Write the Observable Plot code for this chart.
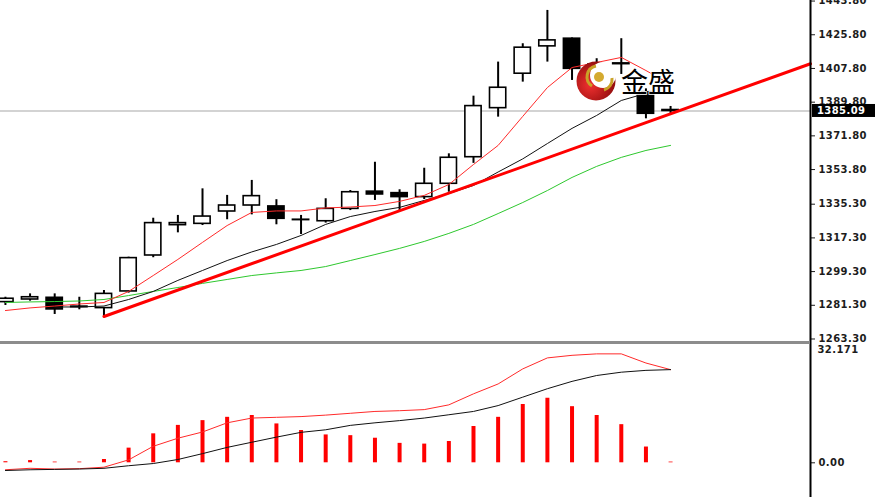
<!DOCTYPE html>
<html><head><meta charset="utf-8">
<script src="https://cdn.jsdelivr.net/npm/d3@7"></script>
<script src="https://cdn.jsdelivr.net/npm/@observablehq/plot@0.6"></script>
<style>
html,body{margin:0;padding:0;background:#fff;}
#wrap{position:relative;width:875px;height:497px;overflow:hidden;background:#fff;}
#wrap svg{position:absolute;left:0;display:block;}
</style></head><body><div id="wrap"></div>
<script>
// ---- data ----
const bars   = [0,1,2,3,4,5,6,7,8,9,10,11,12,13,14,15,16,17,18,19,20,21,22,23,24,25,26,27];
const opens  = [1283.0,1284.4,1285.3,1280.6,1279.8,1288.7,1307.9,1324.1,1324.8,1331.4,1334.6,1334.1,1327.0,1326.2,1332.8,1342.0,1341.2,1339.1,1346.2,1360.4,1386.6,1405.0,1419.6,1423.7,1408.5,1410.5,1395.1,1385.6];
const highs  = [1285.6,1287.4,1287.4,1285.6,1289.2,1307.0,1327.8,1329.3,1343.5,1340.0,1348.0,1337.7,1329.3,1338.2,1342.6,1357.7,1343.0,1354.5,1362.2,1393.0,1411.2,1421.0,1438.8,1424.1,1413.0,1423.7,1396.9,1387.5];
const lows   = [1281.2,1283.5,1276.4,1278.9,1274.9,1287.8,1306.7,1320.0,1323.9,1327.0,1329.6,1324.3,1319.1,1325.2,1331.9,1337.3,1331.9,1337.8,1341.7,1357.1,1381.8,1400.5,1411.2,1401.4,1398.8,1404.6,1380.9,1383.2];
const closes = [1284.8,1285.6,1279.1,1280.3,1287.4,1306.5,1325.2,1325.2,1328.7,1334.6,1339.6,1327.5,1326.8,1332.8,1341.7,1340.5,1339.1,1346.2,1360.1,1387.7,1397.5,1418.9,1422.8,1407.6,1410.0,1410.1,1383.6,1385.09];
const maRed   = [1278.5,1279.9,1280.9,1282.0,1282.8,1288.7,1297.2,1305.8,1314.9,1323.9,1330.9,1331.7,1331.7,1333.3,1333.8,1334.6,1336.8,1340.0,1345.8,1356.5,1366.7,1382.2,1397.6,1408.3,1411.0,1413.7,1406.7,1399.3];
const maBlack = [null,null,1280.4,1280.4,1280.9,1284.4,1288.7,1294.6,1299.9,1305.2,1309.8,1313.8,1318.6,1324.5,1328.7,1331.4,1333.6,1337.3,1341.0,1345.3,1352.5,1359.5,1367.7,1375.8,1382.7,1390.7,1394.5,null];
const maGreen = [1282.8,1283.1,1283.3,1283.6,1284.4,1286.5,1288.7,1290.8,1293.0,1295.1,1297.2,1298.6,1299.9,1302.0,1305.2,1308.4,1311.7,1315.4,1319.7,1324.5,1330.3,1336.2,1342.6,1349.6,1355.5,1360.3,1364.0,1366.7];
const trendBars   = [4, 32.68];
const trendPrices = [1275.3, 1410.3];
const priceTicks = [1443.80,1425.80,1407.80,1389.80,1371.80,1353.80,1335.30,1317.30,1299.30,1281.30,1263.30];
const lastPrice = 1385.09;
const macdHist  = [0.3,0.6,0.2,0.2,0.9,4.0,7.9,10.2,11.5,12.4,12.9,10.6,8.8,7.6,7.4,6.7,5.3,5.1,5.8,9.9,12.4,15.9,17.6,15.3,12.9,10.4,4.3,0.2];
const macdRed   = [-1.9,-1.5,-1.7,-1.6,-1.2,0.8,4.5,6.7,8.4,10.9,12.2,12.4,12.6,13.0,13.5,14.0,14.2,14.5,15.8,18.8,21.5,25.6,28.6,29.3,29.7,29.7,27.2,25.4];
const macdBlack = [-2.1,-1.9,-1.8,-1.7,-1.5,-0.8,-0.2,0.9,2.5,4.2,5.6,7.0,8.3,9.0,10.2,10.9,11.5,12.2,13.1,14.0,15.6,17.9,20.2,22.2,23.8,24.7,25.2,25.4];
const macdMaxLabel = 32.171;
const macdTicks = [0];
const brandText = "金盛";

// ---- layout ----
const xDomain = [-0.2, 32.68];
const priceDomain = [1261.96, 1444.1];
const macdDomain = [-9.46, 33.07];
const W = 875, RM = 65, TOPH = 341, BOTH = 156;

const candles = bars.map((i,k)=>({i, o:opens[k], h:highs[k], l:lows[k], c:closes[k]}));
const up = candles.filter(d=>d.c>=d.o), down = candles.filter(d=>d.c<d.o);
const series = arr => bars.map((i,k)=>({i, v: arr[k]==null ? NaN : arr[k]}));
const trend = trendBars.map((i,k)=>({i, v: trendPrices[k]}));
const bw = 0.33;
const axisStyle = {fontFamily:"DejaVu Sans", fontSize:"10px", fontWeight:"bold", color:"#1c1c1c", background:"transparent", overflow:"visible", letterSpacing:"0.4px"};

const topPlot = Plot.plot({
  width: W, height: TOPH, marginLeft: 0, marginRight: RM, marginTop: 0, marginBottom: 0,
  x: {domain: xDomain, axis: null},
  y: {domain: priceDomain, axis: "right", ticks: priceTicks, tickFormat: d=>d.toFixed(2), tickSize: 4, tickPadding: 4, label: null},
  style: axisStyle,
  marks: [
    Plot.ruleY([lastPrice], {stroke:"#c4c4c4", strokeWidth:1.5}),
    Plot.ruleX(candles, {x:"i", y1:"l", y2:"h", stroke:"black", strokeWidth:2}),
    Plot.rect(up, {x1:d=>d.i-bw, x2:d=>d.i+bw, y1:"o", y2:"c", fill:"white", stroke:"black", strokeWidth:1.6}),
    Plot.rect(down, {x1:d=>d.i-bw, x2:d=>d.i+bw, y1:"o", y2:"c", fill:"black", stroke:"black", strokeWidth:1.6}),
    Plot.line(series(maGreen), {x:"i", y:"v", stroke:"#2ec82e", strokeWidth:1}),
    Plot.line(series(maBlack), {x:"i", y:"v", stroke:"#111", strokeWidth:1}),
    Plot.line(series(maRed), {x:"i", y:"v", stroke:"#ff2a2a", strokeWidth:1}),
    Plot.line(trend, {x:"i", y:"v", stroke:"#ff0000", strokeWidth:3}),
    Plot.ruleX([xDomain[1]], {stroke:"black", strokeWidth:2})
  ]
});
topPlot.style.top = "0px";

const botPlot = Plot.plot({
  width: W, height: BOTH, marginLeft: 0, marginRight: RM, marginTop: 0, marginBottom: 0,
  x: {domain: xDomain, axis: null},
  y: {domain: macdDomain, axis: "right", ticks: macdTicks, tickFormat: d=>d.toFixed(2), tickSize: 4, tickPadding: 4, label: null},
  style: axisStyle,
  marks: [
    Plot.ruleX(series(macdHist), {x:"i", y1:0, y2:"v", stroke:"#ff0000", strokeWidth:4}),
    Plot.line(series(macdRed), {x:"i", y:"v", stroke:"#ff2a2a", strokeWidth:1}),
    Plot.line(series(macdBlack), {x:"i", y:"v", stroke:"#111", strokeWidth:1}),
    Plot.text([macdMaxLabel], {x: () => xDomain[1], y: d=>d, text: d=>d.toFixed(3), dx: 7, dy: 5, textAnchor:"start", fill:"#1c1c1c"}),
    Plot.ruleX([xDomain[1]], {stroke:"black", strokeWidth:2})
  ]
});
botPlot.style.top = TOPH + "px";

const wrap = document.getElementById("wrap");
wrap.appendChild(botPlot);
wrap.appendChild(topPlot);

// panel separator (stops at the price axis), through the lower plot's scales
const bx = botPlot.scale("x"), by = botPlot.scale("y");
d3.select(botPlot).append("line")
  .attr("x1", bx.apply(xDomain[0])).attr("x2", bx.apply(xDomain[1]))
  .attr("y1", by.apply(macdDomain[1]) + 1.5).attr("y2", by.apply(macdDomain[1]) + 1.5)
  .attr("stroke", "#8c8c8c").attr("stroke-width", 3);

// last price label box, positioned through the plot's scales
const sx = topPlot.scale("x"), sy = topPlot.scale("y");
const svg = d3.select(topPlot);
const px = sx.apply(xDomain[1]) + 2, py = sy.apply(lastPrice);
svg.append("rect").attr("x", px).attr("y", py-6.5).attr("width", W-px).attr("height", 13).attr("fill", "black");
svg.append("text").attr("x", px+5).attr("y", py).attr("dy","0.35em").attr("fill","white").attr("text-anchor","start")
  .attr("font-family","DejaVu Sans").attr("font-size",10).attr("font-weight","bold").attr("letter-spacing","0.4px")
  .text(lastPrice.toFixed(2));

// watermark logo
const defs = svg.append("defs");
const grad = defs.append("radialGradient").attr("id","lg").attr("cx","35%").attr("cy","60%").attr("r","70%");
grad.append("stop").attr("offset","0%").attr("stop-color","#f03030");
grad.append("stop").attr("offset","100%").attr("stop-color","#8a0a0a");
const logo = svg.append("g");
logo.append("circle").attr("cx",596).attr("cy",81).attr("r",19.5).attr("fill","url(#lg)");
logo.append("circle").attr("cx",603).attr("cy",75).attr("r",13).attr("fill","white");
logo.append("path").attr("d","M596,66 A11,11 0 0,0 592,86").attr("fill","none").attr("stroke","#c9a227").attr("stroke-width",3);
logo.append("path").attr("d","M612,78 A11,11 0 0,1 604,90").attr("fill","none").attr("stroke","#c9a227").attr("stroke-width",3);
logo.append("circle").attr("cx",599).attr("cy",77).attr("r",5).attr("fill","#d4aa30");
logo.append("text").attr("x",621).attr("y",92).attr("text-anchor","start").attr("font-family","Noto Sans CJK SC").attr("font-size",27)
  .attr("font-weight","normal").attr("letter-spacing","0px")
  .attr("fill","black").attr("stroke","white").attr("stroke-width",1.5).attr("paint-order","stroke").text(brandText);
</script></body></html>
